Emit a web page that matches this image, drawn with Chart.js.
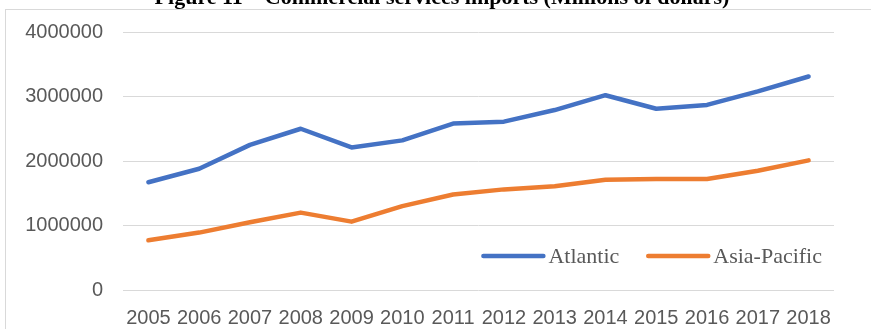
<!DOCTYPE html>
<html>
<head>
<meta charset="utf-8">
<script src="https://cdn.jsdelivr.net/npm/chart.js@4"></script>
<style>
  html, body { margin: 0; padding: 0; background: #fff; }
  #wrap { position: relative; width: 871px; height: 329px; }
</style>
</head>
<body>
<div id="wrap"><canvas id="importsChart" width="871" height="329"></canvas></div>
<script>
// Commercial services imports, millions of dollars
const years = ['2005', '2006', '2007', '2008', '2009', '2010', '2011', '2012', '2013', '2014', '2015', '2016', '2017', '2018'];
const atlantic = [1670000, 1880000, 2250000, 2500000, 2210000, 2320000, 2580000, 2610000, 2790000, 3020000, 2810000, 2870000, 3080000, 3310000];
const asiaPacific = [770000, 890000, 1050000, 1200000, 1060000, 1300000, 1480000, 1560000, 1610000, 1710000, 1720000, 1720000, 1850000, 2010000];
const yTicks = [0, 1000000, 2000000, 3000000, 4000000];
const title = 'Figure 11 \u2013 Commercial services imports (Millions of dollars)';

const tickFont = { family: '"Liberation Sans", sans-serif', size: 20 };
const gridColor = '#d9d9d9';

// frame + title drawn behind the chart
const framePlugin = {
  id: 'frame',
  beforeDraw(chart) {
    const ctx = chart.ctx;
    ctx.save();
    ctx.strokeStyle = gridColor;
    ctx.lineWidth = 1;
    ctx.strokeRect(5.5, 9.5, chart.width + 20, chart.height + 20);
    ctx.fillStyle = '#000';
    ctx.font = 'bold 22px "Liberation Serif", serif';
    ctx.textAlign = 'center';
    ctx.textBaseline = 'alphabetic';
    ctx.fillText(title, 442, 4);
    ctx.restore();
  }
};

// legend sits inside the plot, bottom right
const insideLegend = {
  id: 'insideLegend',
  afterDatasetsDraw(chart) {
    const ctx = chart.ctx;
    const area = chart.chartArea;
    const y = area.bottom - 34;
    ctx.save();
    ctx.font = '22px "Liberation Serif", serif';
    ctx.textBaseline = 'middle';
    ctx.textAlign = 'left';
    let x = area.right - 12;
    const items = chart.data.datasets.slice().reverse();
    items.forEach(ds => {
      const w = ctx.measureText(ds.label).width;
      x -= w;
      ctx.fillStyle = '#595959';
      ctx.fillText(ds.label, x, y + 1);
      x -= 5;
      ctx.strokeStyle = ds.borderColor;
      ctx.lineWidth = 4.5;
      ctx.lineCap = 'round';
      ctx.beginPath();
      ctx.moveTo(x - 60, y);
      ctx.lineTo(x, y);
      ctx.stroke();
      x -= 60 + 29;
    });
    ctx.restore();
  }
};

new Chart(document.getElementById('importsChart'), {
  type: 'line',
  data: {
    labels: years,
    datasets: [
      { label: 'Atlantic', data: atlantic, borderColor: '#4472c4', backgroundColor: '#4472c4' },
      { label: 'Asia-Pacific', data: asiaPacific, borderColor: '#ed7d31', backgroundColor: '#ed7d31' }
    ]
  },
  options: {
    responsive: false,
    animation: false,
    layout: { padding: { top: 32, right: 37, left: 0, bottom: 0 } },
    elements: {
      line: { borderWidth: 4.5, tension: 0, borderCapStyle: 'round', borderJoinStyle: 'round' },
      point: { radius: 0, hoverRadius: 0 }
    },
    plugins: {
      legend: { display: false },
      tooltip: { enabled: false }
    },
    scales: {
      x: {
        offset: true,
        grid: { display: false, drawTicks: false },
        border: { display: false },
        ticks: { color: '#595959', font: tickFont, padding: 16, maxRotation: 0, autoSkip: false },
        afterFit(scale) { scale.height = 39; }
      },
      y: {
        min: 0,
        max: 4000000,
        afterBuildTicks(scale) { scale.ticks = yTicks.map(v => ({ value: v })); },
        grid: { color: gridColor, lineWidth: 1, drawTicks: false },
        border: { display: false },
        ticks: { color: '#595959', font: tickFont, padding: 20, callback: v => String(v) },
        afterFit(scale) { scale.width = 123; }
      }
    }
  },
  plugins: [framePlugin, insideLegend]
});
</script>
</body>
</html>
